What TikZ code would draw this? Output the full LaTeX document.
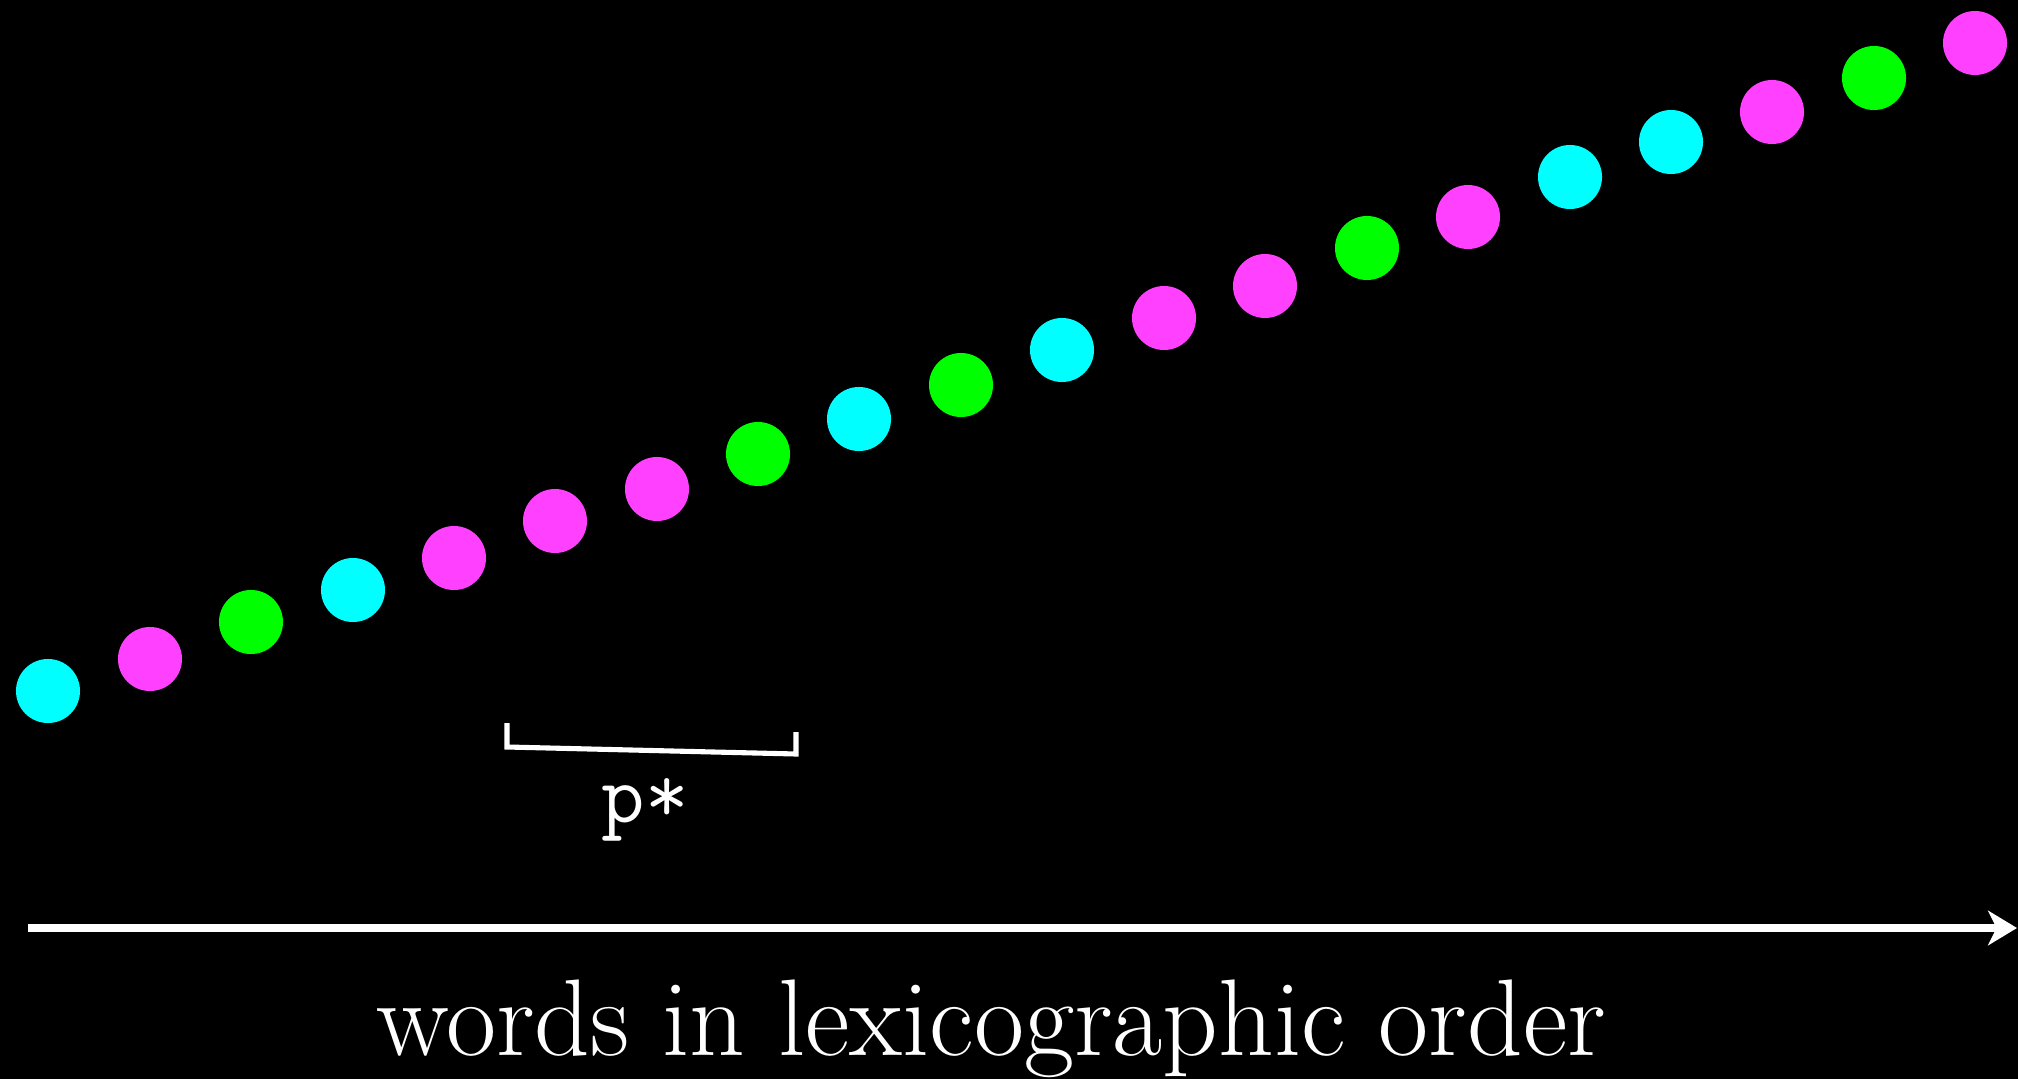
\documentclass[tikz,border=0pt]{standalone}
\usetikzlibrary{arrows.meta}
\definecolor{aqua}{HTML}{00FFFF}
\definecolor{orchid}{HTML}{FF40FF}
\definecolor{lime}{HTML}{00FF00}
\begin{document}
\begin{tikzpicture}[x=0.01cm,y=-0.01cm,
  dot/.style={circle,minimum size=0.64cm,inner sep=0pt},
  axisline/.style={white,line width=2.3pt,-{Stealth[length=8.2pt,width=9.8pt,inset=2.4pt]}}]
\fill[black] (0,0) rectangle (2018,1079);
\useasboundingbox (0,0) rectangle (2018,1079);
\node[dot,fill=aqua]   (d1)  at (48,691) {};
\node[dot,fill=orchid] (d2)  at (150,659) {};
\node[dot,fill=lime]   (d3)  at (251,622) {};
\node[dot,fill=aqua]   (d4)  at (353,590) {};
\node[dot,fill=orchid] (d5)  at (454,558) {};
\node[dot,fill=orchid] (d6)  at (555,521) {};
\node[dot,fill=orchid] (d7)  at (657,489) {};
\node[dot,fill=lime]   (d8)  at (758,454) {};
\node[dot,fill=aqua]   (d9)  at (859,419) {};
\node[dot,fill=lime]   (d10) at (961,385) {};
\node[dot,fill=aqua]   (d11) at (1062,350) {};
\node[dot,fill=orchid] (d12) at (1164,318) {};
\node[dot,fill=orchid] (d13) at (1265,286) {};
\node[dot,fill=lime]   (d14) at (1367,248) {};
\node[dot,fill=orchid] (d15) at (1468,217) {};
\node[dot,fill=aqua]   (d16) at (1570,177) {};
\node[dot,fill=aqua]   (d17) at (1671,142) {};
\node[dot,fill=orchid] (d18) at (1772,112) {};
\node[dot,fill=lime]   (d19) at (1874,78) {};
\node[dot,fill=orchid] (d20) at (1975,43) {};
\coordinate (brTL) at (507,723);
\coordinate (brBL) at (507,747);
\coordinate (brBR) at (796,754);
\coordinate (brTR) at (796,732);
\draw[white,line width=1.45pt] (brTL) -- (brBL) -- (brBR) -- (brTR);
\node[anchor=base,text=white,inner sep=0pt,font=\fontsize{24}{28}\selectfont\ttfamily]
  (pstar) at (645,822) {p*};
\coordinate (axL) at (28,928);
\coordinate (axR) at (2017,928);
\draw[axisline] (axL) -- (axR);
\node[anchor=base,text=white,inner sep=0pt,font=\fontsize{31}{36}\selectfont]
  (caption) at (991,1055) {words in lexicographic order};
\end{tikzpicture}
\end{document}
